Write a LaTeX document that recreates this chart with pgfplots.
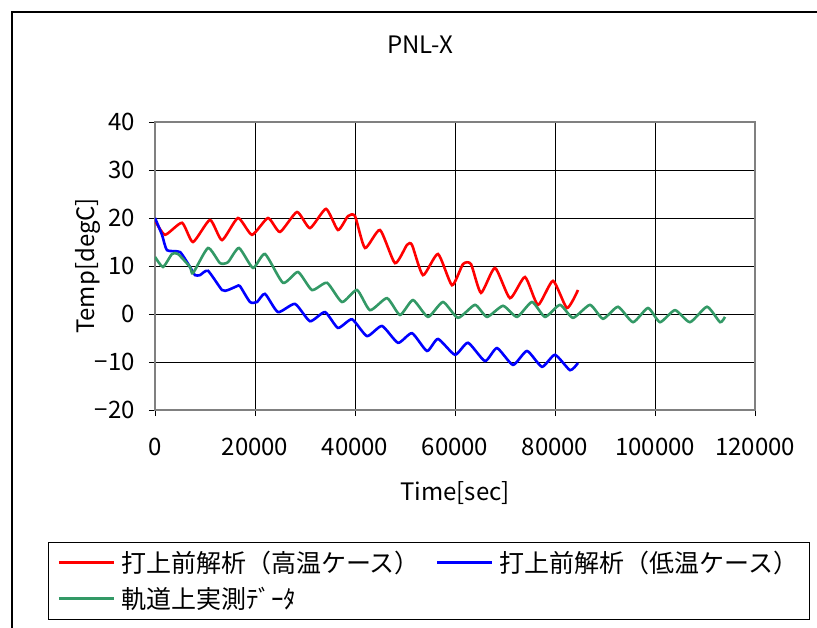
\documentclass[border=0pt]{standalone}
\usepackage{fontspec}
\setmainfont{Noto Sans CJK JP}
\usepackage{pgfplots}
\pgfplotsset{compat=1.18}
\definecolor{seagreen}{RGB}{51,153,102}
\newcommand{\chartfont}{\fontsize{24pt}{28pt}\selectfont}
\newcommand{\legendfont}{\fontsize{25pt}{29pt}\selectfont}
\begin{document}
\begin{tikzpicture}
\useasboundingbox (0pt,0pt) rectangle (817pt,627pt);
% outer chart frame
\draw[line width=1.4pt] (12pt,-20pt) -- (12pt,615pt) -- (840pt,615pt);
\node[font=\chartfont] at (420pt,582pt) {PNL-X};
\begin{axis}[
  at={(155pt,217pt)}, anchor=south west,
  scale only axis, width=600pt, height=288pt,
  xmin=0, xmax=120000, ymin=-20, ymax=40,
  scaled x ticks=false,
  xtick={0,20000,40000,60000,80000,100000,120000},
  xticklabels={0,20000,40000,60000,80000,100000,120000},
  ytick={-20,-10,0,10,20,30,40},
  yticklabels={−20,−10,0,10,20,30,40},
  xtick pos=left, ytick pos=left,
  tick align=outside, major tick length=6pt,
  tick style={black, line width=0.8pt},
  grid=major,
  major grid style={black, line width=0.9pt},
  axis line style={gray, line width=1.6pt},
  tick label style={font=\chartfont, inner sep=0pt},
  xticklabel style={anchor=center, yshift=-31pt},
  yticklabel style={anchor=east, xshift=-14pt},
  xlabel={Time[sec]}, ylabel={Temp[degC]},
  label style={font=\chartfont},
  xlabel style={at={(axis description cs:0.5,-0.288)}, anchor=center},
  ylabel style={at={(axis description cs:-0.112,0.5)}, anchor=center},
  legend style={at={(-0.178,-0.458)}, anchor=north west,
    draw=black, line width=0.8pt, font=\legendfont,
    inner xsep=9pt, inner ysep=7pt, row sep=9pt,
    nodes={inner sep=2pt},
    /tikz/every even column/.append style={column sep=14pt},
    /tikz/every odd column/.append style={column sep=4pt}},
  legend columns=2, legend cell align=left,
  legend image code/.code={\draw[#1] (0pt,0pt) -- (55pt,0pt);},
]
% pre-launch analysis, hot case
\addplot[red, line width=2.6pt, smooth, tension=0.35] coordinates {
(0,19.5) (2000,16.5) (5400,19.0) (7600,15.0) (11000,19.6) (13400,15.4)
(16600,20.0) (19400,16.5) (22600,20.0) (25000,17.1) (28400,21.25)
(31000,17.9) (34200,21.9) (36600,17.5) (38600,20.4) (40000,20.4)
(42000,13.75) (45000,17.5) (48000,10.6) (50400,14.4) (51400,14.4)
(53600,8.1) (56600,12.5) (59400,6.0) (61600,10.4) (63200,10.4)
(65200,4.4) (68000,9.6) (71000,3.3) (74000,7.7) (76600,1.9)
(79600,6.9) (82400,1.25) (84600,5.0)
};
\addlegendentry{打上前解析（高温ケース）}
% pre-launch analysis, cold case
\addplot[blue, line width=2.6pt, smooth, tension=0.35] coordinates {
(0,20.0) (1400,16.5) (2400,13.3) (5000,12.9) (7000,9.8) (8000,8.1)
(9000,8.1) (10600,9.0) (13400,5.0) (14600,5.0) (16400,5.8) (17000,5.8)
(19000,2.5) (20400,2.5) (22000,4.2) (24600,0.4) (28000,2.1) (31000,-1.5)
(34000,0.4) (36600,-2.9) (39400,-1.1) (42400,-4.6) (45400,-2.5)
(48600,-6.0) (51400,-4.0) (54400,-7.7) (56600,-5.2) (60000,-8.5)
(62600,-6.0) (66000,-9.8) (68400,-7.1) (71600,-10.6) (74400,-7.7)
(77400,-11.0) (80000,-8.5) (83000,-11.7) (84600,-10.2)
};
\addlegendentry{打上前解析（低温ケース）}
% on-orbit measured data
\addplot[seagreen, line width=2.6pt, smooth, tension=0.35] coordinates {
(0,11.9) (1600,9.8) (3400,12.5) (4600,12.5) (7000,9.8) (7600,8.5)
(10600,13.75) (13000,10.6) (14600,10.8) (16800,13.75) (19600,9.6)
(22000,12.5) (25600,6.5) (28600,8.75) (31400,5.0) (34400,6.5)
(37400,2.5) (40400,5.0) (43000,0.8) (46400,3.3) (49000,-0.2)
(51600,2.9) (54600,-0.6) (57600,2.5) (60600,-0.8) (64000,1.9)
(66400,-0.6) (69600,1.7) (72400,-0.6) (75400,2.5) (78000,-0.6)
(81000,1.9) (83600,-0.8) (87000,1.9) (89600,-1.0) (92600,1.5)
(95600,-1.7) (98600,1.25) (101000,-1.7) (104000,0.8) (107000,-1.7)
(110400,1.5) (113000,-1.7) (114000,-0.6)
};
\addlegendentry{軌道上実測ﾃﾞｰﾀ}
\end{axis}
\end{tikzpicture}
\end{document}
